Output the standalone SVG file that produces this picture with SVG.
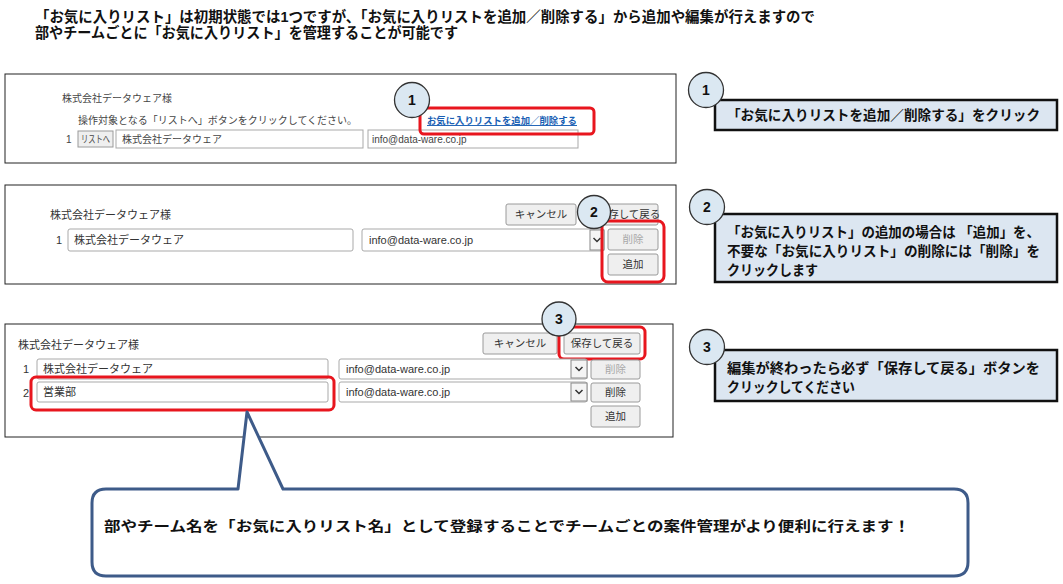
<svg xmlns="http://www.w3.org/2000/svg" width="1063" height="584" viewBox="0 0 1063 584">
<style>
text{font-family:'Liberation Sans','Noto Sans CJK JP',sans-serif}
.title{font-size:14.5px;font-weight:bold;fill:#111}
.panel{fill:#fff;stroke:#222;stroke-width:1}
.ui{font-size:10px;fill:#444}
.ui2{font-size:11px;fill:#333}
.inp{fill:#fff;stroke:#a9a9a9;stroke-width:1}
.btn{fill:#efefef;stroke:#9a9a9a;stroke-width:1}
.btnt{font-size:10.5px;fill:#333;text-anchor:middle}
.dis{fill:#a8a8a8}
.hl{fill:none;stroke:#e8161e;stroke-width:3}
.badge{fill:#dbe8f2;stroke:#333;stroke-width:1.3}
.num{font-size:14px;font-weight:bold;fill:#111;text-anchor:middle}
.note{fill:#dce6f1;stroke:#111;stroke-width:2.5}
.nt{font-size:14px;font-weight:bold;fill:#111}
.callout{fill:#fff;stroke:#3e5b89;stroke-width:3;stroke-linejoin:round}
.chev{fill:none;stroke:#333;stroke-width:1.5}
.link{font-size:9.5px;font-weight:bold;fill:#1a5fb4;text-decoration:underline}
</style>

<g id="title">
<text class="title" x="35" y="22" textLength="780" lengthAdjust="spacingAndGlyphs">「お気に入りリスト」は初期状態では1つですが、「お気に入りリストを追加／削除する」から追加や編集が行えますので</text>
<text class="title" x="35" y="38" textLength="423" lengthAdjust="spacingAndGlyphs">部やチームごとに「お気に入りリスト」を管理することが可能です</text>
</g>

<g id="panel1">
<rect class="panel" x="5" y="74" width="671" height="89"/>
<text class="ui" x="62" y="102">株式会社データウェア様</text>
<text class="ui" x="78" y="124">操作対象となる「リストへ」ボタンをクリックしてください。</text>
<text class="ui" x="66" y="143">1</text>
<rect class="btn" x="78" y="131" width="35" height="16" fill="#e6e6e6"/>
<text class="ui" x="81" y="143" font-size="9" fill="#666" textLength="29" lengthAdjust="spacingAndGlyphs">リストへ</text>
<rect class="inp" x="116" y="130" width="247" height="18"/>
<text class="ui" x="122" y="143">株式会社データウェア</text>
<rect class="inp" x="368" y="130" width="210" height="18"/>
<text class="ui" x="372" y="143">info@data-ware.co.jp</text>
<text class="link" x="427" y="124" textLength="150" lengthAdjust="spacingAndGlyphs">お気に入りリストを追加／削除する</text>
<rect class="hl" x="420" y="108" width="174" height="26" rx="4"/>
<circle class="badge" cx="412" cy="100" r="17.5"/>
<text class="num" x="412" y="105">1</text>
</g>

<g id="panel2">
<rect class="panel" x="5" y="185" width="671" height="99"/>
<text class="ui2" x="50" y="219" font-size="11.5">株式会社データウェア様</text>
<rect class="btn" x="506" y="204" width="70" height="21" rx="2"/>
<text class="btnt" x="541" y="218">キャンセル</text>
<rect class="btn" x="597" y="204" width="61" height="21" rx="2"/>
<text class="btnt" x="629" y="218">保存して戻る</text>
<text class="ui2" x="56" y="244">1</text>
<rect class="inp" x="68" y="229" width="285" height="22" rx="2"/>
<text class="ui2" x="74" y="244">株式会社データウェア</text>
<rect class="inp" x="362" y="229" width="242" height="22" rx="2"/>
<text class="ui2" x="369" y="244" font-size="11.5" fill="#222">info@data-ware.co.jp</text>
<rect x="590" y="230" width="14" height="20" fill="#f4f4f4" stroke="#888"/>
<path class="chev" d="M593.5 238 l3.5 3.5 l3.5 -3.5"/>
<rect class="btn" x="608" y="229" width="50" height="21" rx="2" fill="#f4f4f4"/>
<text class="btnt dis" x="633" y="243">削除</text>
<rect class="btn" x="608" y="254" width="50" height="21" rx="2"/>
<text class="btnt" x="633" y="268">追加</text>
<rect class="hl" x="602" y="221" width="62" height="61" rx="6"/>
<circle class="badge" cx="594" cy="212" r="16.5"/>
<text class="num" x="594" y="217">2</text>
</g>

<g id="panel3">
<rect class="panel" x="5" y="324" width="668" height="113"/>
<text class="ui2" x="18" y="349" font-size="11.5">株式会社データウェア様</text>
<rect class="btn" x="483" y="333" width="74" height="21" rx="2"/>
<text class="btnt" x="520" y="347">キャンセル</text>
<rect class="btn" x="564" y="333" width="76" height="21" rx="2"/>
<text class="btnt" x="602" y="347">保存して戻る</text>
<rect class="hl" x="559" y="327" width="86" height="32" rx="5"/>
<circle class="badge" cx="559" cy="319" r="17"/>
<text class="num" x="559" y="324">3</text>
<text class="ui2" x="23" y="373">1</text>
<rect class="inp" x="37" y="359" width="291" height="20" rx="2"/>
<text class="ui2" x="43" y="373">株式会社データウェア</text>
<rect class="inp" x="339" y="359" width="248" height="20" rx="2"/>
<text class="ui2" x="346" y="373" font-size="11.5" fill="#222">info@data-ware.co.jp</text>
<rect x="571" y="360" width="16" height="18" fill="#f4f4f4" stroke="#888"/>
<path class="chev" d="M575.5 367 l3.5 3.5 l3.5 -3.5"/>
<rect class="btn" x="591" y="360" width="49" height="19" rx="2" fill="#f4f4f4"/>
<text class="btnt dis" x="615.5" y="373">削除</text>
<text class="ui2" x="23" y="397">2</text>
<rect class="inp" x="37" y="382" width="291" height="20" rx="2"/>
<text class="ui2" x="43" y="396">営業部</text>
<rect class="inp" x="339" y="382" width="248" height="20" rx="2"/>
<text class="ui2" x="346" y="396" font-size="11.5" fill="#222">info@data-ware.co.jp</text>
<rect x="571" y="383" width="16" height="18" fill="#f4f4f4" stroke="#888"/>
<path class="chev" d="M575.5 390 l3.5 3.5 l3.5 -3.5"/>
<rect class="btn" x="591" y="383" width="49" height="19" rx="2"/>
<text class="btnt" x="615.5" y="396">削除</text>
<rect class="btn" x="591" y="406" width="49" height="21" rx="2"/>
<text class="btnt" x="615.5" y="420">追加</text>
<rect class="hl" x="31" y="377" width="303" height="33" rx="5"/>
</g>

<g id="connectors">
<path class="callout" d="M106 489 L238 489 L247 412 L283 489 L954 489 Q968 489 968 503 L968 562 Q968 576 954 576 L106 576 Q92 576 92 562 L92 503 Q92 489 106 489 Z"/>
</g>
<g id="callout-text">
<text class="nt" x="104" y="531" font-size="15" textLength="806" lengthAdjust="spacingAndGlyphs">部やチーム名を「お気に入りリスト名」として登録することでチームごとの案件管理がより便利に行えます！</text>
</g>

<g id="note1">
<rect class="note" x="715" y="100" width="342" height="30"/>
<circle class="badge" cx="706" cy="90" r="17.5"/>
<text class="num" x="706" y="95">1</text>
<text class="nt" x="727" y="120" textLength="313" lengthAdjust="spacingAndGlyphs">「お気に入りリストを追加／削除する」をクリック</text>
</g>

<g id="note2">
<rect class="note" x="715" y="214" width="342" height="68"/>
<circle class="badge" cx="707" cy="207" r="17.5"/>
<text class="num" x="707" y="212">2</text>
<text class="nt" x="727" y="237" textLength="313" lengthAdjust="spacingAndGlyphs">「お気に入りリスト」の追加の場合は 「追加」を、</text>
<text class="nt" x="727" y="256" textLength="313" lengthAdjust="spacingAndGlyphs">不要な「お気に入りリスト」の削除には「削除」を</text>
<text class="nt" x="727" y="275" textLength="91" lengthAdjust="spacingAndGlyphs">クリックします</text>
</g>

<g id="note3">
<rect class="note" x="715" y="350" width="342" height="51"/>
<circle class="badge" cx="707" cy="347" r="17.5"/>
<text class="num" x="707" y="352">3</text>
<text class="nt" x="727" y="373" textLength="313" lengthAdjust="spacingAndGlyphs">編集が終わったら必ず「保存して戻る」ボタンを</text>
<text class="nt" x="727" y="392" textLength="128" lengthAdjust="spacingAndGlyphs">クリックしてください</text>
</g>
</svg>
